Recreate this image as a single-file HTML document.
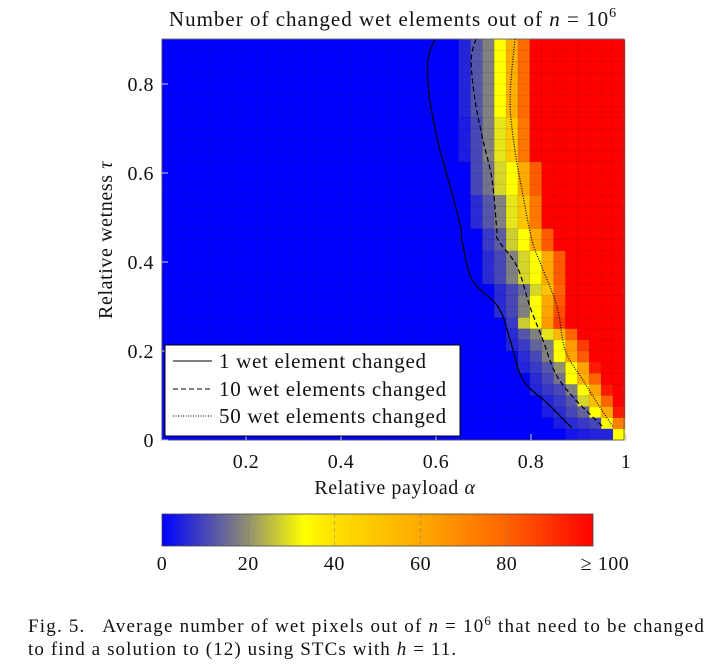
<!DOCTYPE html>
<html><head><meta charset="utf-8"><style>
body{margin:0;background:#fff;width:708px;height:663px;overflow:hidden;font-family:"Liberation Serif",serif;}
svg text{font-family:"Liberation Serif",serif;fill:#111;}
</style></head><body>
<svg id="c" width="708" height="663">
<text x="393" y="26" font-size="21" letter-spacing="1" text-anchor="middle">Number of changed wet elements out of <tspan font-style="italic">n</tspan> = 10<tspan dy="-9" font-size="14">6</tspan></text>
<g id="heat"></g>
<g id="lines"></g>
<g id="axes"></g>
<g>
<rect x="165" y="345" width="295" height="91" fill="#fff" stroke="#000" stroke-width="1"/>
<line x1="173" y1="361" x2="212" y2="361" stroke="#000" stroke-width="1"/>
<text x="219" y="368" font-size="21" letter-spacing="0.7">1 wet element changed</text>
<line x1="173" y1="389" x2="212" y2="389" stroke="#000" stroke-width="1" stroke-dasharray="5,3"/>
<text x="219" y="396" font-size="21" letter-spacing="0.7">10 wet elements changed</text>
<line x1="173" y1="416" x2="212" y2="416" stroke="#000" stroke-width="1" stroke-dasharray="1,1.5"/>
<text x="219" y="423" font-size="21" letter-spacing="0.7">50 wet elements changed</text>
</g>
<text x="395" y="494" font-size="20" letter-spacing="0.6" text-anchor="middle">Relative payload <tspan font-style="italic">α</tspan></text>
<text transform="translate(112,240) rotate(-90)" font-size="20" letter-spacing="0.6" text-anchor="middle">Relative wetness <tspan font-style="italic">τ</tspan></text>
<defs><linearGradient id="cb" x1="0" x2="1" y1="0" y2="0">
<stop offset="0" stop-color="#0000ff"/><stop offset="0.18" stop-color="#808080"/><stop offset="0.33" stop-color="#ffff00"/><stop offset="0.4" stop-color="#ffe000"/><stop offset="0.6" stop-color="#ffaa00"/><stop offset="0.8" stop-color="#ff6400"/><stop offset="1" stop-color="#ff0000"/></linearGradient></defs>
<rect x="162" y="514" width="431" height="32" fill="url(#cb)" stroke="#444" stroke-width="0.8"/>
<g id="cbticks"></g>
<text x="28" y="632" font-size="19" letter-spacing="1.2">Fig. 5.&#160;&#160; Average number of wet pixels out of <tspan font-style="italic">n</tspan> = 10<tspan dy="-7" font-size="13">6</tspan><tspan dy="7"> that need to be changed</tspan></text>
<text x="28" y="655" font-size="19" letter-spacing="1.1">to find a solution to (12) using STCs with <tspan font-style="italic">h</tspan> = 11.</text>
</svg>
<script>
const alphaCenters = Array.from({length:39},(_, c)=>0.035+0.025*c);
const tauCenters = Array.from({length:36},(_, i)=>0.9-0.025*(i+0.5));
const rowStart = [25,25,25,25,25,25,25,25,25,25,25,26,26,26,26,26,26,27,27,27,27,27,28,28,28,29,29,29,30,30,31,31,32,32,33,34];
const rowVals = [
[5,12,18,33,58,78],[5,12,18,33,58,78],[5,12,18,33,58,78],[5,12,18,33,58,78],[5,12,18,33,58,78],[5,12,18,33,58,78],[5,12,18,33,58,78],
[4,10,18,30,48,75],[4,10,18,30,48,75],[4,10,18,30,48,75],[4,10,18,30,48,75],
[10,16,28,33,60,82],[10,16,28,33,60,82],[10,16,28,33,60,82],
[6,12,18,30,50,75],[6,12,18,30,50,75],[6,12,18,30,50,75],
[8,13,27,33,60,82],[8,13,27,33,60,82],
[6,10,18,28,33,60,82],[6,10,18,28,33,60,82],[6,10,18,28,33,60,82],
[6,10,15,28,50,80],[6,10,18,33,60,82],[6,10,18,33,62,85],
[8,27,33,65,88],[6,12,18,30,55,80],[5,8,14,18,33,65,88],
[6,10,18,33,62,82],[5,8,12,20,33,62,95],[6,10,16,33,58,80],
[5,8,10,18,33,62,95],[5,8,12,28,52,80],[4,6,10,14,33,60,95],
[4,6,8,10,33,72],[3,4,5,5,33]];
const solidA=[0.598,0.583,0.587,0.608,0.623,0.651,0.655,0.676,0.731,0.756,0.783,0.834,0.886];
const solidT=[0.901,0.854,0.764,0.652,0.596,0.483,0.449,0.360,0.299,0.225,0.135,0.083,0.027];
const dashA=[0.684,0.674,0.682,0.699,0.718,0.728,0.731,0.771,0.798,0.825,0.851,0.888,0.952];
const dashT=[0.901,0.854,0.764,0.674,0.584,0.472,0.449,0.389,0.299,0.225,0.151,0.097,0.029];
const dotA=[0.766,0.756,0.766,0.781,0.802,0.823,0.855,0.872,0.909,0.945,0.973];
const dotT=[0.901,0.764,0.652,0.562,0.449,0.389,0.299,0.202,0.135,0.074,0.029];
const xTicks=[0.2,0.4,0.6,0.8,1];
const xTickLabels=["0.2","0.4","0.6","0.8","1"];
const yTicks=[0,0.2,0.4,0.6,0.8];
const yTickLabels=["0","0.2","0.4","0.6","0.8"];
const cbTicks=[0,20,40,60,80,100];
const cbTickLabels=["0","20","40","60","80","≥ 100"];

const NS="http://www.w3.org/2000/svg";
const X=a=>151+475*a, Y=t=>440-445*t, CB=v=>162+4.31*v;
const stops=[[0,[0,0,255]],[18,[128,128,128]],[33,[255,255,0]],[40,[255,224,0]],[60,[255,170,0]],[80,[255,100,0]],[100,[255,0,0]]];
function col(v){v=Math.max(0,Math.min(100,v));for(let k=1;k<stops.length;k++){if(v<=stops[k][0]){const [v0,c0]=stops[k-1],[v1,c1]=stops[k];const f=(v-v0)/(v1-v0);return `rgb(${c0.map((x,j)=>Math.round(x+(c1[j]-x)*f)).join(",")})`;}}return "rgb(255,0,0)";}
function mk(tag,attrs,parent){const e=document.createElementNS(NS,tag);for(const k in attrs)e.setAttribute(k,attrs[k]);parent.appendChild(e);return e;}
const heat=document.getElementById('heat');
tauCenters.forEach((t,i)=>{alphaCenters.forEach((a,c)=>{
  let v; const s=rowStart[i], vals=rowVals[i];
  if(c<s) v=0; else if(c-s<vals.length) v=vals[c-s]; else v=100;
  const x0=X(a-0.0125),x1=X(a+0.0125),y0=Y(t+0.0125),y1=Y(t-0.0125);
  const r=mk('rect',{x:x0,y:y0,width:x1-x0+0.3,height:y1-y0+0.3,fill:col(v),stroke:'rgba(0,0,0,0.13)','stroke-width':0.6},heat);
  
  
});});
const lines=document.getElementById('lines');
function line(A,T,dash,name){
  const P=A.map((a,k)=>[X(a),Y(T[k])]);
  let d='M'+P[0][0].toFixed(1)+','+P[0][1].toFixed(1);
  for(let k=0;k<P.length-1;k++){const p0=P[Math.max(0,k-1)],p1=P[k],p2=P[k+1],p3=P[Math.min(P.length-1,k+2)];
    const c1=[p1[0]+(p2[0]-p0[0])/6,p1[1]+(p2[1]-p0[1])/6],c2=[p2[0]-(p3[0]-p1[0])/6,p2[1]-(p3[1]-p1[1])/6];
    d+=` C${c1[0].toFixed(1)},${c1[1].toFixed(1)} ${c2[0].toFixed(1)},${c2[1].toFixed(1)} ${p2[0].toFixed(1)},${p2[1].toFixed(1)}`;}
  const p=mk('path',{d:d,fill:'none',stroke:'#000','stroke-width':1.2},lines);if(dash)p.setAttribute('stroke-dasharray',dash);
  
  }
line(solidA,solidT,null,'contour-1-changed');
line(dashA,dashT,'5,3','contour-10-changed');
line(dotA,dotT,'1,1.5','contour-50-changed');
const axes=document.getElementById('axes');
mk('rect',{x:162,y:39,width:462,height:401,fill:'none',stroke:'#555','stroke-width':0.8},axes);
xTicks.forEach((v,k)=>{const t=mk('text',{x:X(v),y:468,'font-size':20,'letter-spacing':0.5,'text-anchor':'middle'},axes);t.textContent=xTickLabels[k];
  
  
  mk('line',{x1:X(v),x2:X(v),y1:440,y2:434,stroke:'#ccd','stroke-width':1},axes);});
yTicks.forEach((v,k)=>{const t=mk('text',{x:154,y:Y(v)+7,'font-size':20,'letter-spacing':0.5,'text-anchor':'end'},axes);t.textContent=yTickLabels[k];
  
  
  mk('line',{x1:162,x2:168,y1:Y(v),y2:Y(v),stroke:'#ccd','stroke-width':1},axes);});
const cbt=document.getElementById('cbticks');
cbTicks.forEach((v,k)=>{const t=mk('text',{x:CB(v)+(k==5?12:0),y:570,'font-size':20,'letter-spacing':0.5,'text-anchor':'middle'},cbt);t.textContent=cbTickLabels[k];
  
  
  if(k>0&&k<5)mk('line',{x1:CB(v),x2:CB(v),y1:514,y2:546,stroke:'rgba(120,120,120,0.6)','stroke-width':0.8,'stroke-dasharray':'4,3'},cbt);});
</script>
</body></html>
